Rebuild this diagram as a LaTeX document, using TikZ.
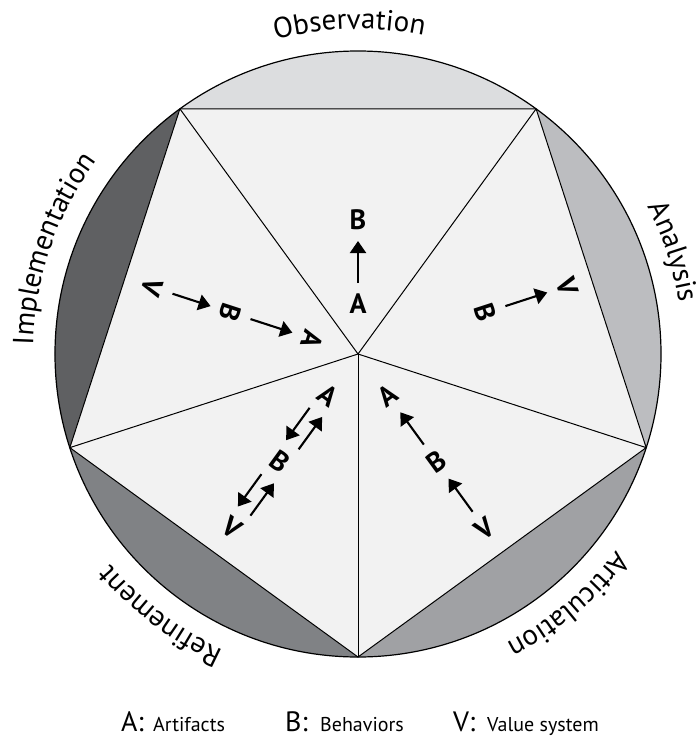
\documentclass[tikz,border=0pt]{standalone}
\usepackage{fontspec}
\setsansfont{PT Sans}
\usetikzlibrary{decorations.text,arrows.meta,calc}
\definecolor{segobs}{HTML}{DCDDDF}
\definecolor{segana}{HTML}{BCBDC0}
\definecolor{segart}{HTML}{A0A1A4}
\definecolor{segref}{HTML}{808285}
\definecolor{segimp}{HTML}{5F6062}
\definecolor{pentfill}{HTML}{F2F2F2}
\newcommand\lblfont{\sffamily\fontsize{29pt}{29pt}\selectfont}
\tikzset{
  letter/.style={font=\sffamily\bfseries\fontsize{28pt}{28pt}\selectfont, inner sep=0pt},
  arr/.style={-{Triangle[length=12pt,width=16pt]}, line width=2.1pt, shorten <=21pt, shorten >=21pt},
  edge/.style={line width=1pt},
  circlabel/.style={decorate, decoration={text along path, text align=center, text={|\lblfont|#1}}},
  legbig/.style={anchor=base west, inner sep=0pt, font=\sffamily\fontsize{28pt}{28pt}\selectfont},
  legsmall/.style={anchor=base west, inner sep=0pt, font=\sffamily\fontsize{20pt}{20pt}\selectfont}
}
\begin{document}
\begin{tikzpicture}[x=1pt,y=1pt]
\useasboundingbox (0,0) rectangle (697,-738);
\begin{scope}[shift={(358,-354)}]
  \coordinate (O) at (0,0);
  \coordinate (p1) at (126:303);
  \coordinate (p2) at (54:303);
  \coordinate (p3) at (-18:303);
  \coordinate (p4) at (-90:303);
  \coordinate (p5) at (-162:303);
  % circular segments
  \fill[segobs] (p1) arc[start angle=126,end angle=54,radius=303] -- cycle;
  \fill[segana] (p2) arc[start angle=54,end angle=-18,radius=303] -- cycle;
  \fill[segart] (p3) arc[start angle=-18,end angle=-90,radius=303] -- cycle;
  \fill[segref] (p4) arc[start angle=-90,end angle=-162,radius=303] -- cycle;
  \fill[segimp] (p5) arc[start angle=198,end angle=126,radius=303] -- cycle;
  % pentagon
  \filldraw[fill=pentfill, edge, line join=miter] (p1) -- (p2) -- (p3) -- (p4) -- (p5) -- cycle;
  \foreach \i in {1,...,5} \draw[edge] (O) -- (p\i);
  \draw[line width=1.2pt] (O) circle[radius=303];
  % circular labels
  \path[circlabel=Observation] (151.5:325) arc[start angle=151.5,end angle=31.5,radius=325];
  \path[circlabel=Analysis] (78:325) arc[start angle=78,end angle=-42,radius=325];
  \path[circlabel=Articulation] (10:325) arc[start angle=10,end angle=-110,radius=325];
  \path[circlabel=Refinement] (-67:325) arc[start angle=-67,end angle=-187,radius=325];
  \path[circlabel=Implementation] (221:325) arc[start angle=221,end angle=101,radius=325];
  % Observation triangle
  \node[letter] (oA) at (90:50) {A};
  \node[letter] (oB) at (90:134) {B};
  \draw[arr] (oA.center) -- (oB.center);
  % Analysis triangle
  \node[letter, rotate=-72] (aB) at (18:134) {B};
  \node[letter, rotate=-72] (aV) at (18:220) {V};
  \draw[arr] (aB.center) -- (aV.center);
  % Articulation triangle
  \node[letter, rotate=36] (cA) at (-54:51) {A};
  \node[letter, rotate=36] (cB) at (-54:133) {B};
  \node[letter, rotate=36] (cV) at (-54:216) {V};
  \draw[arr] (cV.center) -- (cB.center);
  \draw[arr] (cB.center) -- (cA.center);
  % Refinement triangle
  \node[letter, rotate=-36] (rA) at (-126:51) {A};
  \node[letter, rotate=-36] (rB) at (-126:133) {B};
  \node[letter, rotate=-36] (rV) at (-126:215) {V};
  \draw[arr] ([shift={(144:7.5)}]rA.center) -- ([shift={(144:7.5)}]rB.center);
  \draw[arr] ([shift={(-36:8)}]rB.center) -- ([shift={(-36:8)}]rA.center);
  \draw[arr] ([shift={(144:7.5)}]rB.center) -- ([shift={(144:7.5)}]rV.center);
  \draw[arr] ([shift={(-36:8)}]rV.center) -- ([shift={(-36:8)}]rB.center);
  % Implementation triangle
  \node[letter, rotate=-108] (iA) at (162:48) {A};
  \node[letter, rotate=-108] (iB) at (162:134) {B};
  \node[letter, rotate=-108] (iV) at (162:216) {V};
  \draw[arr] (iV.center) -- (iB.center);
  \draw[arr] (iB.center) -- (iA.center);
\end{scope}
% legend
\node[legbig] (lA) at (121,-731) {A:};
\node[legsmall] (lAt) at (153,-731) {Artifacts};
\node[legbig] (lB) at (285,-731) {B:};
\node[legsmall] (lBt) at (320,-731) {Behaviors};
\node[legbig] (lV) at (453,-731) {V:};
\node[legsmall] (lVt) at (487,-731) {Value system};
\end{tikzpicture}
\end{document}
